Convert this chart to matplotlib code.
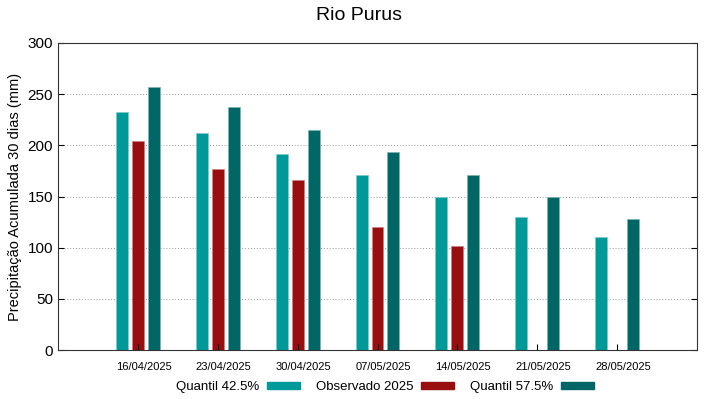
import numpy as np
import matplotlib
matplotlib.use("Agg")
from matplotlib import pyplot as plt
from matplotlib.patches import Patch
from matplotlib.transforms import ScaledTranslation

plt.rcParams['font.family'] = ['Liberation Sans', 'DejaVu Sans']

datas = ["16/04/2025", "23/04/2025", "30/04/2025", "07/05/2025",
         "14/05/2025", "21/05/2025", "28/05/2025"]
quantil_425 = [233, 212, 192, 171, 150, 130, 110]
observado = [204, 177, 166, 120, 102, np.nan, np.nan]
quantil_575 = [257, 237, 215, 193, 171, 150, 128]

c_q1 = "#009999"
c_obs = "#990e0e"
c_q2 = "#006666"

fig = plt.figure(figsize=(7.19, 3.99), dpi=100)
ax = fig.add_axes([58 / 719, 49 / 399, 639 / 719, 307 / 399])

x = np.arange(1, len(datas) + 1)
w = 0.15
ax.bar(x - 0.2, quantil_425, w, color=c_q1, edgecolor="#7fcccc", linewidth=0.5)
ax.bar(x, observado, w, color=c_obs, edgecolor="#cc8080", linewidth=0.5)
ax.bar(x + 0.2, quantil_575, w, color=c_q2, edgecolor="#80b3b3", linewidth=0.5)

ax.set_xlim(0, 8)
ax.set_ylim(0, 300)
ax.set_xticks(x)
ax.set_xticklabels(datas, fontsize=8)
ax.set_yticks(range(0, 301, 50))
ax.tick_params(axis='y', labelsize=11, direction='in', right=True, length=4)
ax.tick_params(axis='x', direction='in', length=4, pad=9)
# gnuplot puts the date labels a bit right of the tick
offset = ScaledTranslation(6 / 100, 0, fig.dpi_scale_trans)
for lbl in ax.get_xticklabels():
    lbl.set_transform(lbl.get_transform() + offset)
for s in ax.spines.values():
    s.set_linewidth(0.8)
    s.set_color("#333333")
for v in range(50, 300, 50):
    ax.axhline(v, color="#999999", linestyle=(0, (1, 2)), linewidth=0.7, zorder=0)

ax.set_ylabel("Precipitação Acumulada 30 dias (mm)", fontsize=10.5)
fig.suptitle("Rio Purus", y=1 - 16 / 399, va="center", fontsize=14)

handles = [Patch(color=c_q1), Patch(color=c_obs), Patch(color=c_q2)]
fig.legend(handles, ["Quantil 42.5%", "Observado 2025", "Quantil 57.5%"],
           loc="center", bbox_to_anchor=(385 / 719, 1 - 387 / 399), ncol=3,
           frameon=False, markerfirst=False, fontsize=9.5,
           handlelength=2.5, handleheight=0.4, columnspacing=1.2, handletextpad=0.6)

plt.savefig("out.png", dpi=100)
